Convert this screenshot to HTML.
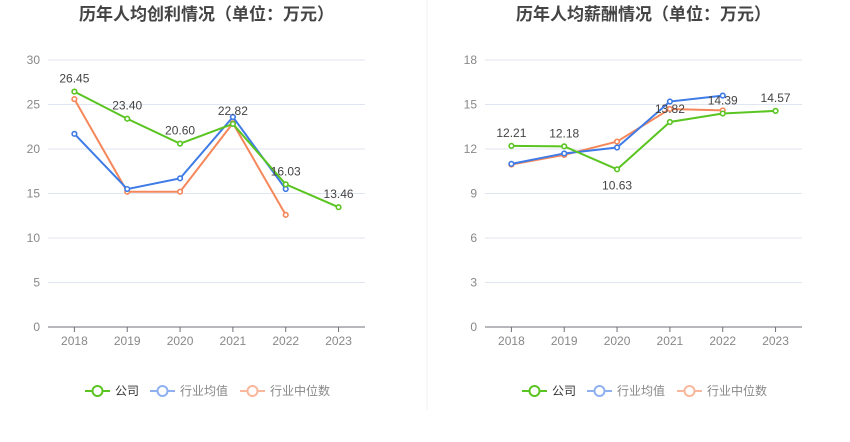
<!DOCTYPE html>
<html><head><meta charset="utf-8">
<style>
body{margin:0;background:#fff;font-family:"Liberation Sans","Noto Sans CJK SC",sans-serif;}
svg text{font-family:"Liberation Sans","Noto Sans CJK SC",sans-serif;}
</style></head>
<body>
<svg id="c" width="850" height="437" xmlns="http://www.w3.org/2000/svg">
<line x1="427" y1="0" x2="427" y2="410" stroke="#eef0f4"/>
</svg>
<script>
const categories=["2018","2019","2020","2021","2022","2023"];
const profitCompany=[26.45,23.40,20.60,22.82,16.03,13.46];
const profitAvg=[21.7,15.5,16.7,23.6,15.5];
const profitMedian=[25.6,15.2,15.2,22.9,12.6];
const profitTicks=[0,5,10,15,20,25,30];
const salaryCompany=[12.21,12.18,10.63,13.82,14.39,14.57];
const salaryAvg=[11.0,11.7,12.1,15.2,15.6];
const salaryMedian=[10.95,11.6,12.5,14.7,14.6];
const salaryTicks=[0,3,6,9,12,15,18];
const NS="http://www.w3.org/2000/svg";
const svg=document.getElementById('c');
function mk(tag,attrs,parent){const e=document.createElementNS(NS,tag);for(const k in attrs)e.setAttribute(k,attrs[k]);(parent||svg).appendChild(e);return e;}
function chart(left,title,ticks,comp,avg,med,key,belowIdx){
  const right=left+317,top=60,bot=327,max=ticks[ticks.length-1];
  const g=mk('g',{});
  
  
  const sx=i=>left+26.4+i*52.83;
  const sy=v=>bot-(v/max)*(bot-top);
  const t=mk('text',{x:(left+right)/2,y:20,'text-anchor':'middle','font-size':17,'font-weight':'bold',fill:'#444'},g);
  t.textContent=title;
  
  
  ticks.forEach(v=>{
    if(v>0){const l=mk('line',{x1:left,x2:right,y1:sy(v),y2:sy(v),stroke:'#e0e6f1'},g);
    
    }
    const tx=mk('text',{x:left-8,y:sy(v)+4,'text-anchor':'end','font-size':12,fill:'#888'},g);
    tx.textContent=v;
    
    
  });
  const ax=mk('line',{x1:left,x2:right,y1:bot,y2:bot,stroke:'#6e7079'},g);
  
  
  categories.forEach((c,i)=>{
    mk('line',{x1:sx(i),x2:sx(i),y1:bot,y2:bot+5,stroke:'#6e7079'},g);
    const tx=mk('text',{x:sx(i),y:bot+18,'text-anchor':'middle','font-size':12,fill:'#888'},g);
    tx.textContent=c;
    
    
  });
  function series(vals,color,name){
    const p=mk('polyline',{points:vals.map((v,i)=>sx(i)+','+sy(v)).join(' '),fill:'none',stroke:color,'stroke-width':2},g);
    
    
    vals.forEach((v,i)=>{
      const c=mk('circle',{cx:sx(i),cy:sy(v),r:2.3,fill:'#fff',stroke:color,'stroke-width':1.6},g);
      
      
    });
  }
  series(med,'#f5875a',key+'-median');
  series(avg,'#3e7be6',key+'-average');
  series(comp,'#5ac421',key+'-company');
  comp.forEach((v,i)=>{
    const below=i===belowIdx;
    const tx=mk('text',{x:sx(i),y:below?sy(v)+20:sy(v)-9,'text-anchor':'middle','font-size':12,fill:'#444'},g);
    tx.textContent=v.toFixed(2);
    
    
  });
  const leg=[['公司','#5ac421','#333',85],['行业均值','#8fb0f0','#888',150],['行业中位数','#f9b79c','#888',240]];
  leg.forEach(([n,c,tc,x])=>{
    const lg=mk('g',{},g);
    
    
    const ox=left-48+x;
    mk('line',{x1:ox,x2:ox+25,y1:391,y2:391,stroke:c,'stroke-width':2},lg);
    mk('circle',{cx:ox+12.5,cy:391,r:5,fill:'#fff',stroke:c,'stroke-width':2},lg);
    const tx=mk('text',{x:ox+30,y:395,'font-size':12,fill:tc},lg);
    tx.textContent=n;
  });
}
chart(48,'历年人均创利情况（单位：万元）',profitTicks,profitCompany,profitAvg,profitMedian,'profit',-1);
chart(485,'历年人均薪酬情况（单位：万元）',salaryTicks,salaryCompany,salaryAvg,salaryMedian,'salary',2);
</script>
</body></html>
